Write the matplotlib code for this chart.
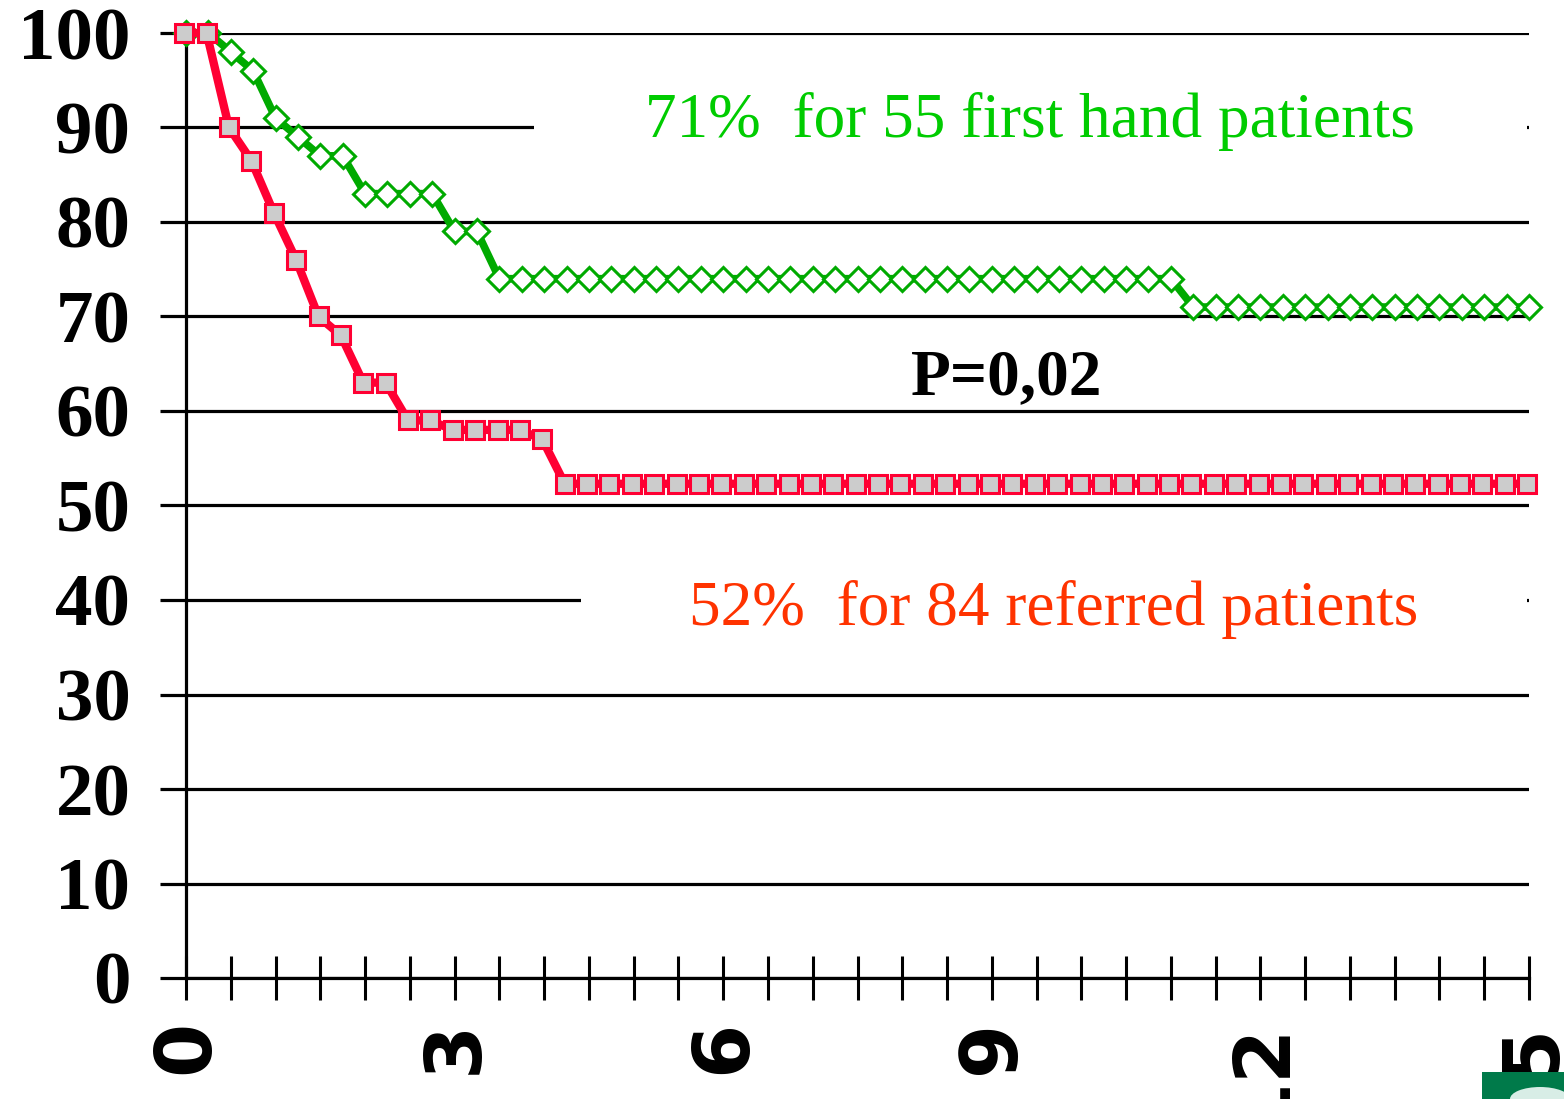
import numpy as np
import matplotlib
matplotlib.use("Agg")
import matplotlib.pyplot as plt
from matplotlib.patches import Rectangle, Ellipse

# survival (%) read every 0.25 month, 0 -> 15
months = np.linspace(0, 15, 61)
first_hand = [100, 100, 98, 96, 91, 89, 87, 87, 83, 83, 83, 83, 79, 79,
              74, 74, 74, 74, 74, 74, 74, 74, 74, 74, 74, 74, 74, 74, 74, 74,
              74, 74, 74, 74, 74, 74, 74, 74, 74, 74, 74, 74, 74, 74, 74,
              71, 71, 71, 71, 71, 71, 71, 71, 71, 71, 71, 71, 71, 71, 71, 71]
referred = [100, 100, 90, 86.5, 81, 76, 70, 68, 63, 63, 59, 59, 58, 58, 58, 58, 57,
            52.3, 52.3, 52.3, 52.3, 52.3, 52.3, 52.3, 52.3, 52.3, 52.3, 52.3,
            52.3, 52.3, 52.3, 52.3, 52.3, 52.3, 52.3, 52.3, 52.3, 52.3, 52.3,
            52.3, 52.3, 52.3, 52.3, 52.3, 52.3, 52.3, 52.3, 52.3, 52.3, 52.3,
            52.3, 52.3, 52.3, 52.3, 52.3, 52.3, 52.3, 52.3, 52.3, 52.3, 52.3]

yticks = [0, 10, 20, 30, 40, 50, 60, 70, 80, 90, 100]
xlabels = ["0", "3", "6", "9", "12", "15"]

label_first = "71%  for 55 first hand patients"
label_ref = "52%  for 84 referred patients"
p_text = "P=0,02"

fig = plt.figure(figsize=(15.64, 10.99), dpi=100)
ax = fig.add_axes([186/1564, 121/1099, 1343/1564, 945/1099])

ax.set_xlim(0, 15)
ax.set_ylim(0, 100)

# grid
ax.set_yticks(yticks)
ax.set_yticklabels([str(v) for v in yticks], family=["Liberation Serif", "DejaVu Serif"],
                   fontweight="bold", fontsize=54)
ax.yaxis.grid(True, color="black", lw=2.3)
ax.set_axisbelow(True)
ax.tick_params(axis="y", direction="out", length=19, width=2.3, pad=21)

xt = np.arange(0, 15.01, 0.5)
ax.set_xticks(xt)
ax.set_xticklabels([xlabels[int(v // 3)] if v % 3 == 0 else "" for v in xt],
                   rotation=90, family=["Liberation Sans Narrow", "DejaVu Sans"],
                   fontweight="bold", fontsize=56, va="top", ha="center")
ax.tick_params(axis="x", direction="inout", length=32, width=2.2, pad=14)

for s in ["top", "right"]:
    ax.spines[s].set_visible(False)
for s in ["left", "bottom"]:
    ax.spines[s].set_linewidth(2.3)

# white label boxes hiding part of the grid
ax.add_patch(Rectangle((3.89, 85), 14.98 - 3.89, 10, facecolor="white", edgecolor="none", zorder=1))
ax.add_patch(Rectangle((4.41, 35), 14.98 - 4.41, 10, facecolor="white", edgecolor="none", zorder=1))

ax.plot(months, first_hand, color="#00AA00", lw=5.5, marker="D", ms=12,
        mfc="white", mec="#00AA00", mew=2.2, clip_on=False, zorder=3)
ax.plot(months - 0.02, referred, color="#FF0033", lw=6, marker="s", ms=13.5,
        mfc="#CCCCCC", mec="#FF0033", mew=2.2, clip_on=False, zorder=4)

ax.text(9.43, 89, label_first, color="#00CC00", fontsize=45.5, ha="center", va="baseline",
        family=["Liberation Serif", "DejaVu Serif"], zorder=5)
ax.text(9.69, 37.35, label_ref, color="#FF3300", fontsize=45.5, ha="center", va="baseline",
        family=["Liberation Serif", "DejaVu Serif"], zorder=5)
ax.text(9.16, 61.8, p_text, color="black", fontsize=47, fontweight="bold", ha="center",
        va="baseline", family=["Liberation Serif", "DejaVu Serif"], zorder=5)

# corner logo fragment
fig.patches.append(Rectangle((1482/1564, 0), 82/1564, 27/1099, transform=fig.transFigure,
                             facecolor="#007A4A", edgecolor="none", zorder=0))
fig.patches.append(Ellipse((1540/1564, 0), 60/1564, 24/1099, transform=fig.transFigure,
                           facecolor="#D8EDE6", edgecolor="none", zorder=0))

fig.savefig("out.png", dpi=100)
